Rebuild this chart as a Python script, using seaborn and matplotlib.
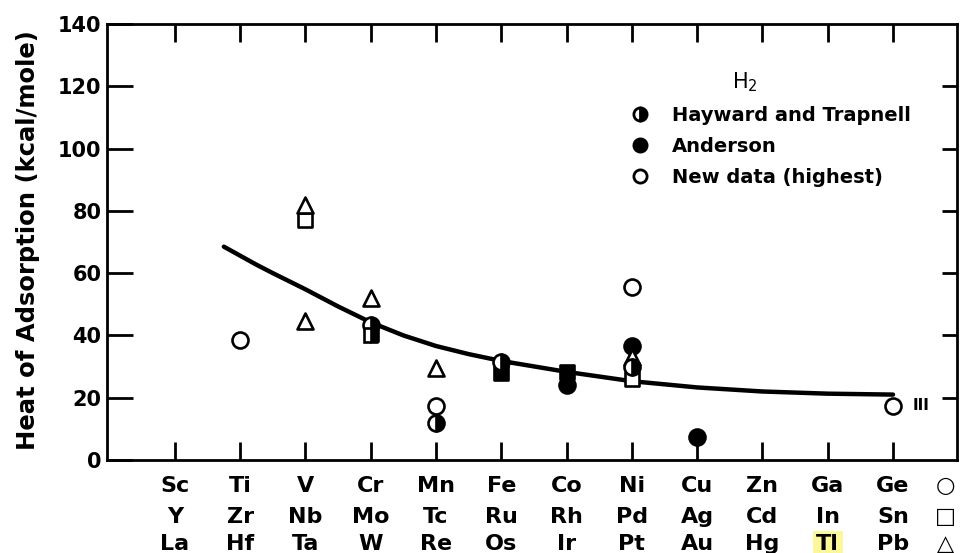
import matplotlib
matplotlib.use("Agg")
import matplotlib.pyplot as plt
from matplotlib.lines import Line2D
import seaborn as sns
import pandas as pd

# ---------------- data ----------------
row1 = ['Sc', 'Ti', 'V', 'Cr', 'Mn', 'Fe', 'Co', 'Ni', 'Cu', 'Zn', 'Ga', 'Ge']
row2 = ['Y', 'Zr', 'Nb', 'Mo', 'Tc', 'Ru', 'Rh', 'Pd', 'Ag', 'Cd', 'In', 'Sn']
row3 = ['La', 'Hf', 'Ta', 'W', 'Re', 'Os', 'Ir', 'Pt', 'Au', 'Hg', 'Tl', 'Pb']
row_symbols = ['○', '□', '△']

pt_metal = ['Ti', 'Ta', 'Nb', 'Ta', 'W', 'Cr', 'Mo', 'Re', 'Mn', 'Mn',
            'Fe', 'Ru', 'Rh', 'Co', 'Ni', 'Ni', 'Pt', 'Ni', 'Pd', 'Cu', 'Ge']
pt_value = [38.5, 82, 77, 44.5, 52, 43.5, 40, 29.5, 17.5, 12,
            31.5, 28, 28.3, 24, 55.5, 36.5, 33, 30, 26, 7.3, 17.5]
pt_source = ['new', 'new', 'new', 'new', 'new', 'HT', 'HT', 'new', 'new', 'HT',
             'HT', 'A', 'A', 'A', 'new', 'A', 'new', 'HT', 'new', 'A', 'new']

curve_x = [0.75, 1, 1.25, 1.5, 2, 2.5, 3, 3.5, 4, 4.5, 5, 6, 7, 8, 9, 10, 11]
curve_y = [68.5, 65.6, 62.7, 60, 54.8, 49.3, 44.2, 40, 36.6, 34, 31.8, 28.3, 25.3, 23.3, 22, 21.3, 21]

legend_labels = ['Hayward and Trapnell', 'Anderson', 'New data (highest)']
y_ticks = [0, 20, 40, 60, 80, 100, 120, 140]

# ---------------- build table ----------------
col_of, shape_of = {}, {}
for i in range(len(row1)):
    col_of[row1[i]] = i; shape_of[row1[i]] = 'circle'
    col_of[row2[i]] = i; shape_of[row2[i]] = 'square'
    col_of[row3[i]] = i; shape_of[row3[i]] = 'triangle'
df = pd.DataFrame({'metal': pt_metal, 'value': pt_value, 'source': pt_source})
df['x'] = df['metal'].map(col_of)
df['shape'] = df['metal'].map(shape_of)
marker_map = {'circle': 'o', 'square': 's', 'triangle': '^'}

sns.set_theme(style='white')
plt.rcParams['font.family'] = ['DejaVu Sans']
plt.rcParams['text.color'] = 'black'
plt.rcParams['axes.labelcolor'] = 'black'
plt.rcParams['xtick.color'] = 'black'
plt.rcParams['ytick.color'] = 'black'

fig = plt.figure(figsize=(9.6, 5.53), dpi=100)
ax = fig.add_axes([107 / 960, 1 - 460 / 553, 850 / 960, 436 / 553])

# curve
sns.lineplot(x=curve_x, y=curve_y, ax=ax, color='black', linewidth=3.2,
             sort=False, estimator=None, zorder=2)

MS = 11.5
EW = 1.9
for shp, m in marker_map.items():
    sz = MS ** 2 * (0.85 if m == 's' else 1.0)
    sub = df[(df['source'] == 'new') & (df['shape'] == shp)]
    if len(sub):
        sns.scatterplot(data=sub, x='x', y='value', ax=ax, marker=m, s=sz,
                        facecolor='white', edgecolor='black', linewidth=EW, zorder=4)
    sub = df[(df['source'] == 'A') & (df['shape'] == shp)]
    if len(sub):
        sns.scatterplot(data=sub, x='x', y='value', ax=ax, marker=m, s=sz,
                        facecolor='black', edgecolor='black', linewidth=EW, zorder=4)
    sub = df[(df['source'] == 'HT') & (df['shape'] == shp)]
    if len(sub):
        ax.plot(sub['x'], sub['value'], linestyle='none', marker=m, markersize=MS * (0.92 if m == 's' else 1.0),
                fillstyle='right', markerfacecolor='black', markerfacecoloralt='white',
                markeredgecolor='black', markeredgewidth=EW, zorder=5)

ax.set_xlim(-1.04, 11.98)
ax.set_ylim(0, 140)

# spines and ticks
for sp in ax.spines.values():
    sp.set_visible(True)
    sp.set_color('black')
    sp.set_linewidth(2.0)
ax.set_xticks(range(len(row1)))
ax.set_xticklabels([])
ax.tick_params(axis='x', direction='in', length=13, width=2, top=True, bottom=True, colors='black')
ax.set_yticks(y_ticks)
ax.set_yticklabels([str(v) for v in y_ticks], fontsize=15, fontweight='bold')
ax.tick_params(axis='y', direction='in', length=19, width=2, left=True, right=False, pad=4, colors='black')
ax.set_xlabel('')

ax2 = ax.twinx()
ax2.set_ylim(0, 140)
ax2.set_yticks(y_ticks[1:-1])
ax2.set_yticklabels([])
ax2.tick_params(axis='y', direction='in', length=11, width=2, right=True, colors='black')
for sp in ax2.spines.values():
    sp.set_visible(False)

ax.set_ylabel('Heat of Adsorption (kcal/mole)', fontsize=17.5, fontweight='bold', color='black')
ax.yaxis.set_label_coords(-0.079, 0.505)

# element rows under the axis
trans = ax.get_xaxis_transform()
row_base = [(460 - 492) / 436, (460 - 523) / 436, (460 - 550) / 436]
for rows, yb in zip([row1, row2, row3], row_base):
    for i, name in enumerate(rows):
        kw = {}
        if name == 'Tl':
            kw['bbox'] = dict(boxstyle='square,pad=0.15', facecolor='#fcf89a', edgecolor='none')
        ax.text(i, yb, name, transform=trans, ha='center', va='baseline',
                fontsize=16, fontweight='bold', color='black', clip_on=False, **kw)
sym_x = (945 - 175) / 65.27
for s, yb in zip(row_symbols, row_base):
    ax.text(sym_x, yb, s, transform=trans, ha='center', va='baseline',
            fontsize=16, fontweight='bold', color='black', clip_on=False)

# 'III' mark next to Ge
ax.text(11.0 + 28 / 65.27, 17.5, 'III', ha='center', va='center', fontsize=11,
        fontweight='bold', color='black')

# legend
ax.text((745 - 175) / 65.27, (460 - 82) / 3.114, 'H$_2$', ha='center', va='center',
        fontsize=15, color='black')
handles = [
    Line2D([], [], linestyle='none', marker='o', markersize=9.5, fillstyle='right',
           markerfacecolor='black', markerfacecoloralt='white', markeredgecolor='black', markeredgewidth=2),
    Line2D([], [], linestyle='none', marker='o', markersize=9.5, markerfacecolor='black',
           markeredgecolor='black', markeredgewidth=2),
    Line2D([], [], linestyle='none', marker='o', markersize=9.5, markerfacecolor='white',
           markeredgecolor='black', markeredgewidth=2),
]
leg = ax.legend(handles, legend_labels, loc='upper left', frameon=False,
                bbox_to_anchor=(630.6 / 960, 1 - 106 / 553), bbox_transform=fig.transFigure,
                borderpad=0, borderaxespad=0, handlelength=1.0, handletextpad=1.15,
                labelspacing=0.62, prop={'weight': 'bold', 'size': 14})
for t in leg.get_texts():
    t.set_color('black')

fig.savefig('out.png', dpi=100, facecolor='white')
